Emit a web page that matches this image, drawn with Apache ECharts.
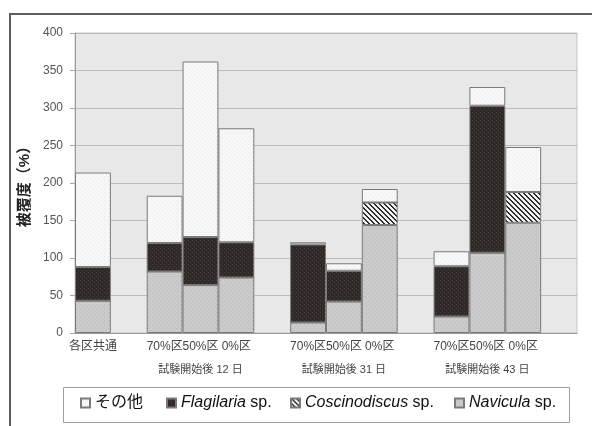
<!DOCTYPE html>
<html>
<head>
<meta charset="utf-8">
<script src="https://cdn.jsdelivr.net/npm/echarts@6/dist/echarts.min.js"></script>
<style>
  html, body { margin: 0; padding: 0; background: #fff; }
  #chart { width: 592px; height: 426px; }
</style>
</head>
<body>
<div id="chart"></div>
<script>
// Plot slots: one common control bar, then three groups of three plots,
// with empty slots separating the groups.
const categories = ['各区共通', '', '70%区', '50%区', '0%区', '', '70%区', '50%区', '0%区', '', '70%区', '50%区', '0%区', ''];
const groupLabels = ['', '', '', '試験開始後 12 日', '', '', '', '試験開始後 31 日', '', '', '', '試験開始後 43 日', '', ''];

// Coverage (%) per taxon, stacked bottom to top: Navicula, Coscinodiscus, Flagilaria, others
const navicula      = [43, null, 82, 64, 74, null, 14, 42, 144, null, 22, 107, 147, null];
const coscinodiscus = [0, null, 0, 0, 0, null, 0, 0, 30, null, 0, 0, 41, null];
const flagilaria    = [45, null, 38, 64, 47, null, 104, 41, 0, null, 67, 196, 0, null];
const others        = [126, null, 63, 234, 152, null, 3, 10, 18, null, 20, 25, 60, null];

const yTicks = { min: 0, max: 400, interval: 50 };

const FONT = '"Liberation Sans", "Noto Sans CJK JP", sans-serif';

// Small repeating canvas tiles used as bar fills
function tile(size, draw) {
  const c = document.createElement('canvas');
  c.width = size; c.height = size;
  draw(c.getContext('2d'), size);
  return { image: c, repeat: 'repeat' };
}
function dotted(bg, dot) {
  return tile(4, (g) => {
    g.fillStyle = bg; g.fillRect(0, 0, 4, 4);
    g.fillStyle = dot; g.fillRect(0, 0, 1, 1); g.fillRect(2, 2, 1, 1);
  });
}
const hatchFill = tile(5, (g, n) => {
  g.fillStyle = '#f2f2f2'; g.fillRect(0, 0, n, n);
  g.fillStyle = '#2e2e2e';
  for (let y = 0; y < n; y++) {
    g.fillRect(y, y, 1, 1);
    g.fillRect((y + 1) % n, y, 1, 1);
  }
});

const fills = {
  others: dotted('#f8f8f8', '#e6e6e6'),
  flag: dotted('#2f2a28', '#474240'),
  cosc: hatchFill,
  navi: dotted('#cbcbcb', '#b8b8b8')
};

const border = { borderColor: '#7a7a7a', borderWidth: 1 };

function barSeries(name, data, fill) {
  return {
    name: name,
    type: 'bar',
    stack: 'total',
    data: data,
    barCategoryGap: '0%',
    barGap: '0%',
    itemStyle: Object.assign({ color: fill }, border),
    emphasis: { disabled: true }
  };
}

const legendText = {
  fontFamily: FONT,
  fontSize: 16,
  color: '#111',
  lineHeight: 18,
  rich: {
    i: { fontFamily: FONT, fontSize: 16, fontStyle: 'italic', color: '#111', lineHeight: 18 },
    n: { fontFamily: FONT, fontSize: 16, color: '#111', lineHeight: 18 }
  }
};
function legendAt(name, left) {
  return {
    data: [{ name: name, icon: 'rect' }],
    left: left,
    top: 394,
    padding: 0,
    itemWidth: 9,
    itemHeight: 9,
    itemGap: 6,
    selectedMode: false,
    textStyle: legendText,
    formatter: function (n) {
      const m = n.match(/^(.*) sp\.$/);
      return m ? '{i|' + m[1] + '}{n| sp.}' : n;
    }
  };
}

const chart = echarts.init(document.getElementById('chart'));
chart.setOption({
  animation: false,
  backgroundColor: '#ffffff',
  grid: {
    left: 75, right: 15, top: 33, bottom: 93,
    show: true,
    backgroundColor: '#e8e8e8',
    borderColor: '#c4c4c4',
    borderWidth: 1
  },
  xAxis: [
    {
      type: 'category',
      data: categories,
      axisLine: { show: true, lineStyle: { color: '#999' } },
      axisTick: { show: false },
      axisLabel: { interval: 0, margin: 8, fontFamily: FONT, fontSize: 12, color: '#444' }
    },
    {
      type: 'category',
      data: groupLabels,
      position: 'bottom',
      offset: 23,
      axisLine: { show: false },
      axisTick: { show: false },
      axisLabel: { interval: 0, margin: 8, fontFamily: FONT, fontSize: 11, color: '#444' }
    }
  ],
  yAxis: {
    type: 'value',
    min: yTicks.min,
    max: yTicks.max,
    interval: yTicks.interval,
    name: '被覆度（%）',
    nameLocation: 'middle',
    nameGap: 33,
    nameTextStyle: { fontFamily: FONT, fontSize: 15, fontWeight: 'bold', color: '#222' },
    axisLine: { show: true, lineStyle: { color: '#9a9a9a' } },
    axisTick: { show: true, length: 5, lineStyle: { color: '#aaa' } },
    axisLabel: { margin: 12, fontFamily: FONT, fontSize: 12, color: '#555' },
    splitLine: { lineStyle: { color: '#bcbcbc' } }
  },
  legend: [
    legendAt('その他', 80),
    legendAt('Flagilaria sp.', 166),
    legendAt('Coscinodiscus sp.', 290),
    legendAt('Navicula sp.', 454)
  ],
  graphic: [
    // outer frame: top and left rules
    { type: 'line', silent: true, z: 10, shape: { x1: 9, y1: 14, x2: 592, y2: 14 }, style: { stroke: '#5c5c5c', lineWidth: 2 } },
    { type: 'line', silent: true, z: 10, shape: { x1: 10, y1: 14, x2: 10, y2: 426 }, style: { stroke: '#5c5c5c', lineWidth: 2 } },
    // legend box
    { type: 'rect', silent: true, z: -1, shape: { x: 63.5, y: 387.5, width: 506, height: 35 }, style: { fill: '#fff', stroke: '#a0a0a0', lineWidth: 1 } }
  ],
  series: [
    barSeries('Navicula sp.', navicula, fills.navi),
    barSeries('Coscinodiscus sp.', coscinodiscus, fills.cosc),
    barSeries('Flagilaria sp.', flagilaria, fills.flag),
    barSeries('その他', others, fills.others)
  ]
});
</script>
</body>
</html>
